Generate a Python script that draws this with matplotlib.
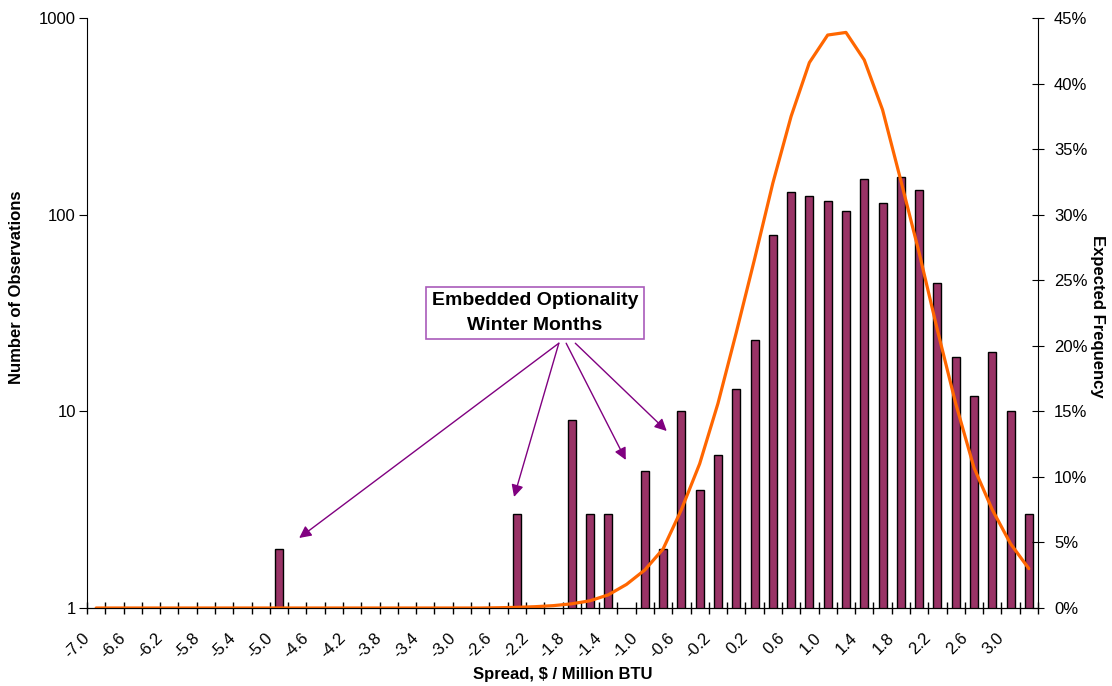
import matplotlib
matplotlib.use("Agg")
import matplotlib.pyplot as plt
from matplotlib.ticker import FixedLocator, FuncFormatter, NullLocator, PercentFormatter

plt.rcParams['font.family'] = ['Liberation Sans', 'DejaVu Sans']

# spread categories, $ / Million BTU
spread = ['-7.0', '-6.8', '-6.6', '-6.4', '-6.2', '-6.0', '-5.8', '-5.6', '-5.4', '-5.2',
          '-5.0', '-4.8', '-4.6', '-4.4', '-4.2', '-4.0', '-3.8', '-3.6', '-3.4', '-3.2',
          '-3.0', '-2.8', '-2.6', '-2.4', '-2.2', '-2.0', '-1.8', '-1.6', '-1.4', '-1.2',
          '-1.0', '-0.8', '-0.6', '-0.4', '-0.2', '0.0', '0.2', '0.4', '0.6', '0.8',
          '1.0', '1.2', '1.4', '1.6', '1.8', '2.0', '2.2', '2.4', '2.6', '2.8',
          '3.0', '3.2']

# number of observations per bin (0 = no bar)
observations = [0, 0, 0, 0, 0, 0, 0, 0, 0, 0,
                2, 0, 0, 0, 0, 0, 0, 0, 0, 0,
                0, 0, 0, 3, 0, 0, 9, 3, 3, 0,
                5, 2, 10, 4, 6, 13, 23, 79, 130, 125,
                118, 104, 152, 115, 156, 134, 45, 19, 12, 20,
                10, 3]

# expected frequency (right axis), percent
expected = [0, 0, 0, 0, 0, 0, 0, 0, 0, 0,
            0, 0, 0, 0, 0, 0, 0, 0, 0, 0,
            0, 0, 0.02, 0.05, 0.1, 0.18, 0.32, 0.55, 1.0, 1.8,
            2.9, 4.5, 7.5, 11.0, 15.6, 21.0, 26.6, 32.4, 37.5, 41.6,
            43.7, 43.9, 41.8, 38.0, 32.6, 27.1, 21.2, 15.6, 10.7, 7.5,
            4.9, 3.0]

bar_color = '#993366'
line_color = '#FF6600'
note_edge = '#A95BBA'
arrow_color = '#800080'

fig = plt.figure(figsize=(11.12, 6.86), dpi=100)
ax = fig.add_axes([87 / 1112, 1 - 608 / 686, 951 / 1112, 590 / 686])

pos = list(range(len(spread)))
bx = [p for p, v in zip(pos, observations) if v > 0]
bv = [v for v in observations if v > 0]
ax.bar(bx, bv, width=0.44, color=bar_color, edgecolor='black', linewidth=1.0)

ax.set_yscale('log')
ax.set_ylim(1, 1000)
ax.set_xlim(-0.5, len(spread) - 0.5)
ax.yaxis.set_major_locator(FixedLocator([1, 10, 100, 1000]))
ax.yaxis.set_major_formatter(FuncFormatter(lambda v, p: '%d' % v))
ax.yaxis.set_minor_locator(NullLocator())

# tick marks on the category boundaries, labels on every other category
ax.xaxis.remove_overlapping_locs = False
ax.set_xticks([p - 0.5 for p in pos] + [len(spread) - 0.5])
ax.set_xticklabels([])
ax.set_xticks([p - 0.5 for p in pos[::2]], minor=True)
ax.set_xticklabels(spread[::2], minor=True, rotation=45, ha='right', va='center',
                   rotation_mode='anchor', fontsize=12)
ax.tick_params(axis='x', which='major', direction='inout', length=9, width=1)
ax.tick_params(axis='x', which='minor', length=0, pad=20)
ax.tick_params(axis='y', which='major', direction='out', length=6, labelsize=12, pad=2)

ax.spines['top'].set_visible(False)
ax.spines['right'].set_visible(False)

ax.set_xlabel('Spread, $ / Million BTU', fontsize=12, fontweight='bold')
ax.xaxis.set_label_coords(0.5, -0.1)
ax.set_ylabel('Number of Observations', fontsize=12, fontweight='bold')
ax.yaxis.set_label_coords(-0.066, 0.544)

ax2 = ax.twinx()
ax2.plot(pos, [e / 100 for e in expected], color=line_color, linewidth=2.3,
         solid_joinstyle='round', solid_capstyle='round')
ax2.set_ylim(0, 0.45)
ax2.set_yticks([i * 0.05 for i in range(10)])
ax2.yaxis.set_major_formatter(PercentFormatter(1.0, decimals=0))
ax2.tick_params(axis='y', direction='inout', length=9, labelsize=12, pad=7)
ax2.spines['top'].set_visible(False)
ax2.spines['left'].set_visible(False)
ax2.set_ylabel('Expected Frequency', fontsize=12, fontweight='bold', rotation=270,
               va='center')
ax2.yaxis.set_label_coords(1.063, 0.495)

# callout
ax.text(24.0, 31.6, 'Embedded Optionality\nWinter Months', ha='center', va='center',
        fontsize=14, fontweight='bold', linespacing=1.55,
        bbox=dict(boxstyle='square,pad=0.3', fc='white', ec=note_edge, lw=1.2))
arrows = [((11.1, 2.27), (25.3, 22.2)),
          ((22.85, 3.67), (25.3, 22.2)),
          ((28.96, 5.66), (25.7, 22.2)),
          ((31.2, 7.94), (26.2, 22.2))]
for tip, start in arrows:
    ax.annotate('', xy=tip, xytext=start,
                arrowprops=dict(arrowstyle='-|>', color=arrow_color, lw=1.0,
                                mutation_scale=18, shrinkA=0, shrinkB=0))

fig.savefig('out.png', dpi=100)
